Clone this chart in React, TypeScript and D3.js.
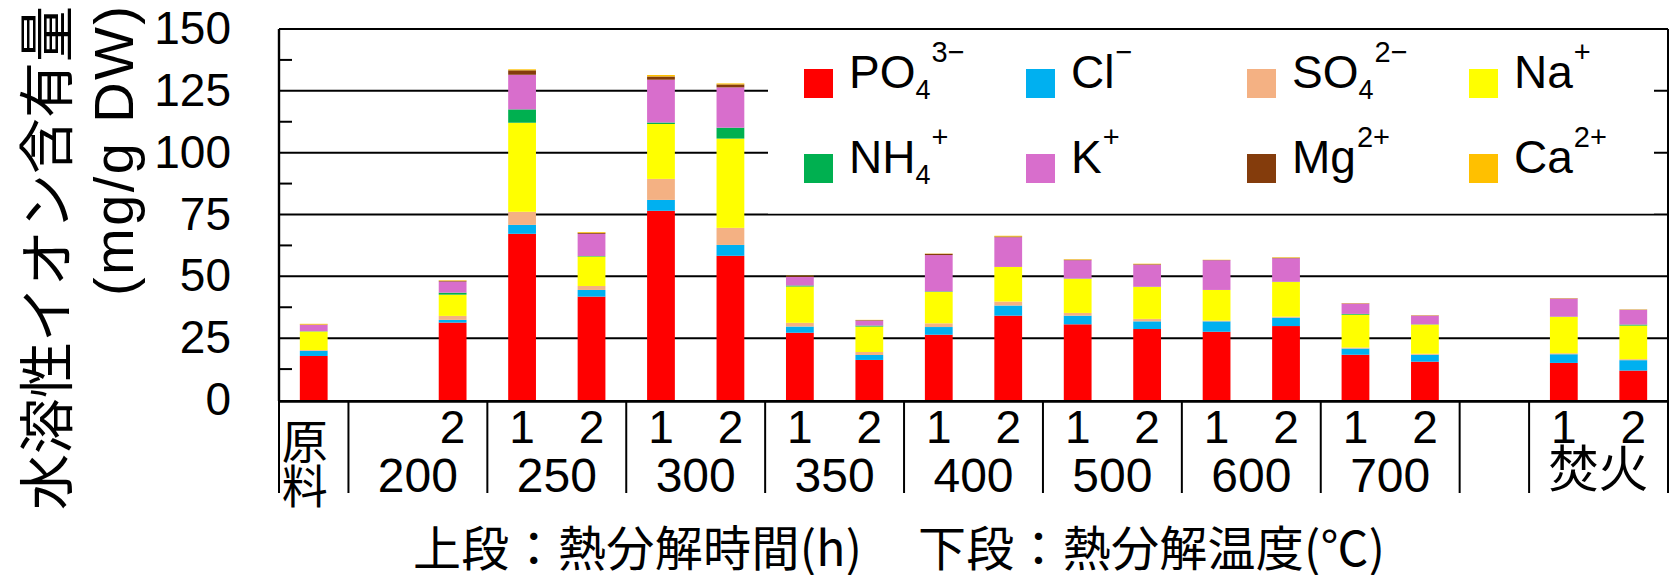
import React from "react";
import * as d3 from "d3";

// Bar slots, left to right (empty strings = gap slots)
const slots = ["原料", "200-1", "200-2", "250-1", "250-2", "300-1", "300-2", "350-1", "350-2", "400-1", "400-2", "500-1", "500-2", "600-1", "600-2", "700-1", "700-2", "gap", "焚火-1", "焚火-2"];

// Upper label row: pyrolysis time (h)
const timeLabels = ["", "", "2", "1", "2", "1", "2", "1", "2", "1", "2", "1", "2", "1", "2", "1", "2", "", "1", "2"];

// Lower label row: pyrolysis temperature groups [label, first slot, last slot]
const groupLabels = ["原料", "200", "250", "300", "350", "400", "500", "600", "700", "", "焚火"];
const groupStart = [0, 1, 3, 5, 7, 9, 11, 13, 15, 17, 18];
const groupEnd = [0, 2, 4, 6, 8, 10, 12, 14, 16, 17, 19];

// Ion contents (mg/g DW)
const po4 = [17.8, 0, 31.3, 67.2, 41.8, 76.5, 58.3, 27.2, 16.2, 26.4, 34.1, 30.6, 28.7, 27.6, 29.9, 18.3, 15.5, 0, 15.0, 11.9];
const cl = [2.1, 0, 1.1, 3.6, 2.7, 4.4, 4.4, 2.5, 2.0, 3.1, 4.1, 3.5, 3.1, 4.2, 3.4, 2.5, 2.8, 0, 3.5, 4.2];
const so4 = [0.3, 0, 1.6, 5.3, 1.6, 8.5, 6.9, 1.5, 1.2, 1.5, 1.6, 1.1, 1.0, 0.3, 0.4, 0.4, 0.4, 0, 0.4, 0.4];
const na = [7.5, 0, 8.6, 36.0, 11.9, 22.2, 36.1, 14.7, 10.3, 12.7, 14.0, 13.8, 12.9, 12.4, 14.0, 13.3, 11.8, 0, 14.7, 13.6];
const nh4 = [0.1, 0, 0.8, 5.4, 0.2, 0.6, 4.4, 0.4, 0.4, 0.2, 0, 0.1, 0.1, 0, 0.1, 0.3, 0.1, 0, 0.1, 0.4];
const k = [2.6, 0, 4.5, 14.0, 9.0, 17.3, 16.3, 3.5, 2.0, 14.7, 12.0, 7.4, 8.9, 12.0, 9.5, 4.2, 3.5, 0, 7.3, 5.9];
const mg = [0.1, 0, 0.3, 1.8, 0.4, 1.3, 1.2, 0.4, 0.2, 0.5, 0.3, 0.2, 0.2, 0.1, 0.2, 0.1, 0.1, 0, 0.1, 0.1];
const ca = [0.3, 0, 0.2, 0.4, 0.3, 0.6, 0.4, 0.1, 0.1, 0.1, 0.3, 0.2, 0.2, 0.1, 0.2, 0.1, 0.1, 0, 0.1, 0.1];

const seriesKeys = ["PO4", "Cl", "SO4", "Na", "NH4", "K", "Mg", "Ca"];
const seriesValues = [po4, cl, so4, na, nh4, k, mg, ca];
const seriesColors = ["#FF0000", "#00B0F0", "#F4B183", "#FFFF00", "#00B050", "#D86ECC", "#843C0C", "#FFC000"];
// legend text parts: base, subscript, superscript
const legendBase = ["PO", "Cl", "SO", "Na", "NH", "K", "Mg", "Ca"];
const legendSub = ["4", "", "4", "", "4", "", "", ""];
const legendSup = ["3−", "−", "2−", "+", "+", "+", "2+", "2+"];

const yTicks = [0, 25, 50, 75, 100, 125, 150];

const W = 1673;
const H = 575;
const LATIN = "'Liberation Sans', Arial, sans-serif";
const CJK = "'Noto Sans CJK JP', sans-serif";

export default function App() {
  const left = 279;
  const right = 1668;
  const top = 29;
  const bottom = 400;

  const x = d3.scaleBand<string>().domain(slots).range([left, right]).paddingInner(0.6).paddingOuter(0.3);
  const step = x.step();
  const y = d3.scaleLinear().domain([0, 150]).range([bottom, top]);

  const rows = slots.map((s, i) => {
    const r: Record<string, any> = { slot: s };
    seriesKeys.forEach((key, j) => (r[key] = seriesValues[j][i]));
    return r;
  });
  const stacked = d3.stack<any>().keys(seriesKeys)(rows);

  const minorTicks = d3.range(12.5, 150, 25);
  const slotEdge = (i: number) => left + i * step;
  const slotCenter = (i: number) => (x(slots[i]) as number) + x.bandwidth() / 2;

  const legendX = [804, 1026, 1247, 1469];
  const legendY = [69, 154];

  const separators = [0, ...groupEnd.map((e) => e + 1)];

  return (
    <svg width={W} height={H} style={{ position: "absolute", left: 0, top: 0, background: "#fff" }}>
      {/* gridlines */}
      {yTicks.filter((t) => t > 0 && t < 150).map((t) => (
        <line key={"g" + t} x1={left} x2={right} y1={y(t)} y2={y(t)} stroke="#000" strokeWidth={2} />
      ))}
      {minorTicks.map((t) => (
        <line key={"m" + t} x1={left} x2={left + 13} y1={y(t)} y2={y(t)} stroke="#000" strokeWidth={2} />
      ))}

      {/* legend background */}
      <rect x={768} y={top + 1} width={1654 - 768} height={y(75) - top - 2} fill="#fff" />

      {/* stacked bars */}
      {stacked.map((layer, j) => (
        <g key={layer.key} fill={seriesColors[j]}>
          {layer.map((d, i) =>
            d[1] - d[0] > 0 ? (
              <rect key={i} x={x(slots[i])} width={x.bandwidth()} y={y(d[1])} height={y(d[0]) - y(d[1])} />
            ) : null
          )}
        </g>
      ))}

      {/* frame */}
      <line x1={left} x2={right} y1={top} y2={top} stroke="#000" strokeWidth={2.2} />
      <line x1={right} x2={right} y1={top} y2={bottom + 1} stroke="#000" strokeWidth={2} />
      <line x1={left} x2={left} y1={top} y2={bottom + 1} stroke="#000" strokeWidth={2.4} />
      <line x1={left - 1} x2={right + 1} y1={bottom + 1.3} y2={bottom + 1.3} stroke="#000" strokeWidth={2.7} />

      {/* y tick labels */}
      {yTicks.map((t) => (
        <text key={"t" + t} x={231} y={y(t) + 15} textAnchor="end" fontFamily={LATIN} fontSize={46} fill="#000">
          {t}
        </text>
      ))}

      {/* y axis title */}
      <text
        transform="translate(42,258) rotate(-90)"
        textAnchor="middle"
        dominantBaseline="central"
        fontFamily={CJK}
        fontSize={56}
        fill="#000"
      >
        水溶性イオン含有量
      </text>
      <text
        transform="translate(133,151) rotate(-90)"
        textAnchor="middle"
        fontFamily={LATIN}
        fontSize={56}
        textLength={290}
        lengthAdjust="spacing"
        fill="#000"
      >
        (mg/g DW)
      </text>

      {/* category table */}
      {separators.map((s, i) => (
        <line key={"s" + i} x1={slotEdge(s)} x2={slotEdge(s)} y1={bottom + 2} y2={493} stroke="#000" strokeWidth={2} />
      ))}
      {timeLabels.map((t, i) =>
        t ? (
          <text key={"h" + i} x={slotCenter(i)} y={443} textAnchor="middle" fontFamily={LATIN} fontSize={46} fill="#000">
            {t}
          </text>
        ) : null
      )}
      {groupLabels.map((g, i) => {
        const cx = (slotEdge(groupStart[i]) + slotEdge(groupEnd[i] + 1)) / 2;
        if (!g) return null;
        if (g === "原料") {
          return (
            <g key={"gl" + i} fontFamily={CJK} fontSize={46} fill="#000">
              {Array.from(g).map((c, ci) => (
                <text key={ci} x={cx - 9} y={438 + ci * 45} textAnchor="middle" dominantBaseline="central">
                  {c}
                </text>
              ))}
            </g>
          );
        }
        if (/^\d+$/.test(g)) {
          return (
            <text key={"gl" + i} x={cx} y={492} textAnchor="middle" fontFamily={LATIN} fontSize={48} fill="#000">
              {g}
            </text>
          );
        }
        return (
          <text key={"gl" + i} x={cx} y={465} textAnchor="middle" dominantBaseline="central" fontFamily={CJK} fontSize={50} fill="#000">
            {g}
          </text>
        );
      })}

      {/* x axis title */}
      <text x={413} y={545} dominantBaseline="central" fontFamily={CJK} fontSize={48} textLength={449} lengthAdjust="spacing" fill="#000">
        上段：熱分解時間(h)
      </text>
      <text x={918} y={545} dominantBaseline="central" fontFamily={CJK} fontSize={48} textLength={467} lengthAdjust="spacing" fill="#000">
        下段：熱分解温度(℃)
      </text>

      {/* legend */}
      {seriesKeys.map((key, j) => {
        const lx = legendX[j % 4];
        const ly = legendY[Math.floor(j / 4)];
        const base = ly + 18.7;
        return (
          <g key={"lg" + key}>
            <rect x={lx} y={ly} width={29} height={29} fill={seriesColors[j]} />
            <text x={lx + 45} y={base} fontFamily={LATIN} fontSize={46} fill="#000">
              {legendBase[j]}
              {legendSub[j] ? (
                <tspan fontSize={27} dy={11.3}>
                  {legendSub[j]}
                </tspan>
              ) : null}
              <tspan fontSize={29} dx={1} dy={legendSub[j] ? -37.3 : -26}>
                {legendSup[j]}
              </tspan>
            </text>
          </g>
        );
      })}
    </svg>
  );
}
